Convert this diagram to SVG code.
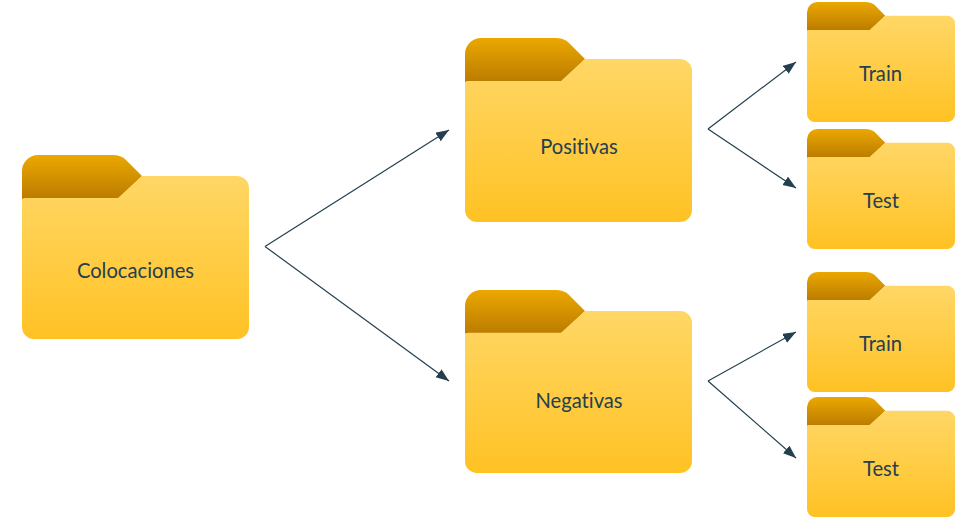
<svg xmlns="http://www.w3.org/2000/svg" width="972" height="523" viewBox="0 0 972 523">
<style>
.lbl{font-family:"Lato","Liberation Sans",sans-serif;font-size:20.2px;fill:#24404f;text-anchor:middle;font-variant-ligatures:none}
.c{fill:none;stroke:#24404f;stroke-width:1.2;marker-end:url(#arrow)}
</style>
<defs>
<linearGradient id="tab" x1="0" y1="0" x2="0" y2="1"><stop offset="0" stop-color="#eba800"/><stop offset="1" stop-color="#bb7b00"/></linearGradient>
<linearGradient id="body" x1="0" y1="0" x2="0" y2="1"><stop offset="0" stop-color="#ffd766"/><stop offset="1" stop-color="#ffc224"/></linearGradient>
<marker id="arrow" markerUnits="userSpaceOnUse" markerWidth="14" markerHeight="12" refX="13" refY="5" orient="auto"><path d="M0,0L13,5L0,10z" fill="#24404f"/></marker>
<g id="folder">
<path d="M0,16A16,16 0 0 1 16,0H91Q98,0 103,4L120,21L96,44H0z" fill="url(#tab)"/>
<path d="M0,45Q0,43 3,43H96L120,21H215A12,12 0 0 1 227,33V172A12,12 0 0 1 215,184H12A12,12 0 0 1 0,172z" fill="url(#body)"/>
</g>
</defs>
<g id="connectors">
<path class="c" d="M265,246.500L449,130"/>
<path class="c" d="M265,246.500L449,381"/>
<path class="c" d="M708,129L796,62"/>
<path class="c" d="M708,129L796,188"/>
<path class="c" d="M708,381L796,332"/>
<path class="c" d="M708,381L796,458"/>
</g>
<g id="colocaciones"><use href="#folder" transform="translate(22,155)"/><text class="lbl" x="135.500" y="277.700">Colocaciones</text></g>
<g id="positivas"><use href="#folder" transform="translate(465,38)"/><text class="lbl" x="579" y="153.700">Positivas</text></g>
<g id="negativas"><use href="#folder" transform="translate(465,290) scale(1,0.995)"/><text class="lbl" x="579" y="407.700">Negativas</text></g>
<g id="train1"><use href="#folder" transform="translate(807,2) scale(0.652)"/><text class="lbl" x="880.500" y="80.700">Train</text></g>
<g id="test1"><use href="#folder" transform="translate(807,129) scale(0.652)"/><text class="lbl" x="881" y="207.700">Test</text></g>
<g id="train2"><use href="#folder" transform="translate(807,272) scale(0.652)"/><text class="lbl" x="880.500" y="350.700">Train</text></g>
<g id="test2"><use href="#folder" transform="translate(807,397) scale(0.652)"/><text class="lbl" x="881" y="475.700">Test</text></g>
</svg>
